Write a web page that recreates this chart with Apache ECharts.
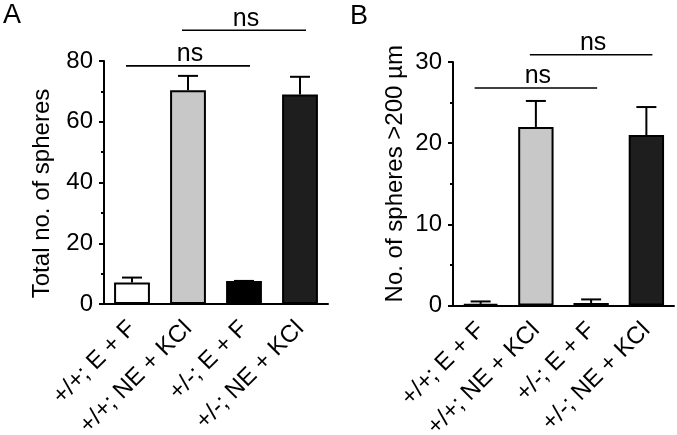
<!DOCTYPE html>
<html>
<head>
<meta charset="utf-8">
<script src="https://cdn.jsdelivr.net/npm/echarts@6/dist/echarts.min.js"></script>
<style>
html,body{margin:0;padding:0;background:#fff;}
#chart{width:677px;height:435px;}
</style>
</head>
<body>
<div id="chart"></div>
<script>
// ---- data ----
var categories = ['+/+; E + F', '+/+; NE + KCl', '+/-; E + F', '+/-; NE + KCl'];
var totalMean = [7.1, 70.4, 7.6, 69.0];
var totalSem = [1.6, 4.7, 0, 5.8];
var bigMean = [0.2, 22.0, 0.3, 21.0];
var bigSem = [0.3, 3.2, 0.45, 3.45];
var barColors = ['#ffffff', '#c8c8c8', '#000000', '#1e1e1e'];
var totalTicks = [0, 20, 40, 60, 80];
var bigTicks = [0, 10, 20, 30];
// significance brackets: [fromIndex, toIndex, height]
var sigTotal = [[0, 2, 78.4], [1, 3, 90.1]];
var sigBig = [[0, 2, 26.8], [1, 3, 30.9]];
var sigLabel = 'ns';
var panelLabels = ['A', 'B'];
var yNames = ['Total no. of spheres', 'No. of spheres >200 µm'];

var FONT = "'Liberation Sans', Arial, Helvetica, sans-serif";

function barData(means) {
  return means.map(function (v, i) {
    return { value: v, itemStyle: { color: barColors[i] } };
  });
}
function errData(means, sems) {
  return means.map(function (v, i) { return [i, v, v + sems[i]]; });
}
function errRender(params, api) {
  var p0 = api.coord([api.value(0), api.value(1)]);
  var p1 = api.coord([api.value(0), api.value(2)]);
  var cap = 10;
  var style = { stroke: '#000', lineWidth: 2, fill: null };
  return {
    type: 'group',
    children: [
      { type: 'line', shape: { x1: p0[0], y1: p0[1], x2: p1[0], y2: p1[1] }, style: style },
      { type: 'line', shape: { x1: p1[0] - cap, y1: p1[1], x2: p1[0] + cap, y2: p1[1] }, style: style }
    ]
  };
}
function sigRender(params, api) {
  var a = api.coord([api.value(0), api.value(2)]);
  var b = api.coord([api.value(1), api.value(2)]);
  var ext = 6;
  return {
    type: 'group',
    children: [
      { type: 'line', shape: { x1: a[0] - ext, y1: a[1], x2: b[0] + ext, y2: b[1] },
        style: { stroke: '#000', lineWidth: 1.6 } },
      { type: 'text', x: (a[0] + b[0]) / 2 + 2, y: a[1] + 1,
        style: { text: sigLabel, fill: '#000', font: '25px ' + FONT, align: 'center', verticalAlign: 'bottom' } }
    ]
  };
}

function xAxisCfg(gi) {
  return {
    type: 'category', gridIndex: gi, data: categories,
    axisLine: { lineStyle: { color: '#000', width: 2 } },
    axisTick: { alignWithLabel: true, length: 7, lineStyle: { color: '#000', width: 2 } },
    axisLabel: { rotate: 45, margin: 21, fontSize: 24, color: '#000', fontFamily: FONT, interval: 0 }
  };
}
function yAxisCfg(gi, ticks, name, pad, gap) {
  var mx = ticks[ticks.length - 1];
  return {
    type: 'value', gridIndex: gi, min: ticks[0], max: mx, interval: ticks[1] - ticks[0],
    name: name, nameLocation: 'middle', nameGap: gap,
    nameTextStyle: { fontSize: 24, color: '#000', fontFamily: FONT, padding: pad },
    axisLine: { show: true, lineStyle: { color: '#000', width: 2 } },
    axisTick: { show: true, length: 5, lineStyle: { color: '#000', width: 2 } },
    minorTick: { show: true, splitNumber: 2, length: 3, lineStyle: { color: '#000', width: 2 } },
    splitLine: { show: false },
    axisLabel: { fontSize: 24, color: '#000', fontFamily: FONT, margin: 11 }
  };
}

var chart = echarts.init(document.getElementById('chart'), null, { renderer: 'canvas' });
chart.setOption({
  animation: false,
  backgroundColor: '#fff',
  title: [
    { text: panelLabels[0], left: -2, top: -3, textStyle: { fontSize: 27, fontWeight: 'normal', color: '#000', fontFamily: FONT } },
    { text: panelLabels[1], left: 345, top: -2, textStyle: { fontSize: 27, fontWeight: 'normal', color: '#000', fontFamily: FONT } }
  ],
  grid: [
    { left: 104, top: 61, width: 224, height: 243, containLabel: false, outerBoundsMode: 'none' },
    { left: 453, top: 62, width: 221, height: 243.5, containLabel: false, outerBoundsMode: 'none' }
  ],
  xAxis: [xAxisCfg(0), xAxisCfg(1)],
  yAxis: [
    yAxisCfg(0, totalTicks, yNames[0], [0, 22, 0, 0], 50),
    yAxisCfg(1, bigTicks, yNames[1], [0, 0, 0, 20], 46)
  ],
  series: [
    { type: 'bar', xAxisIndex: 0, yAxisIndex: 0, data: barData(totalMean), barWidth: '64%',
      itemStyle: { borderColor: '#000', borderWidth: 2 } },
    { type: 'bar', xAxisIndex: 1, yAxisIndex: 1, data: barData(bigMean), barWidth: '64%',
      itemStyle: { borderColor: '#000', borderWidth: 2 } },
    { type: 'custom', xAxisIndex: 0, yAxisIndex: 0, data: errData(totalMean, totalSem),
      encode: { x: 0, y: [1, 2] }, renderItem: errRender, z: 5, clip: false },
    { type: 'custom', xAxisIndex: 1, yAxisIndex: 1, data: errData(bigMean, bigSem),
      encode: { x: 0, y: [1, 2] }, renderItem: errRender, z: 5, clip: false },
    { type: 'custom', xAxisIndex: 0, yAxisIndex: 0, data: sigTotal,
      encode: { x: [0, 1], y: 2 }, renderItem: sigRender, z: 5, clip: false },
    { type: 'custom', xAxisIndex: 1, yAxisIndex: 1, data: sigBig,
      encode: { x: [0, 1], y: 2 }, renderItem: sigRender, z: 5, clip: false }
  ]
});
</script>
</body>
</html>
